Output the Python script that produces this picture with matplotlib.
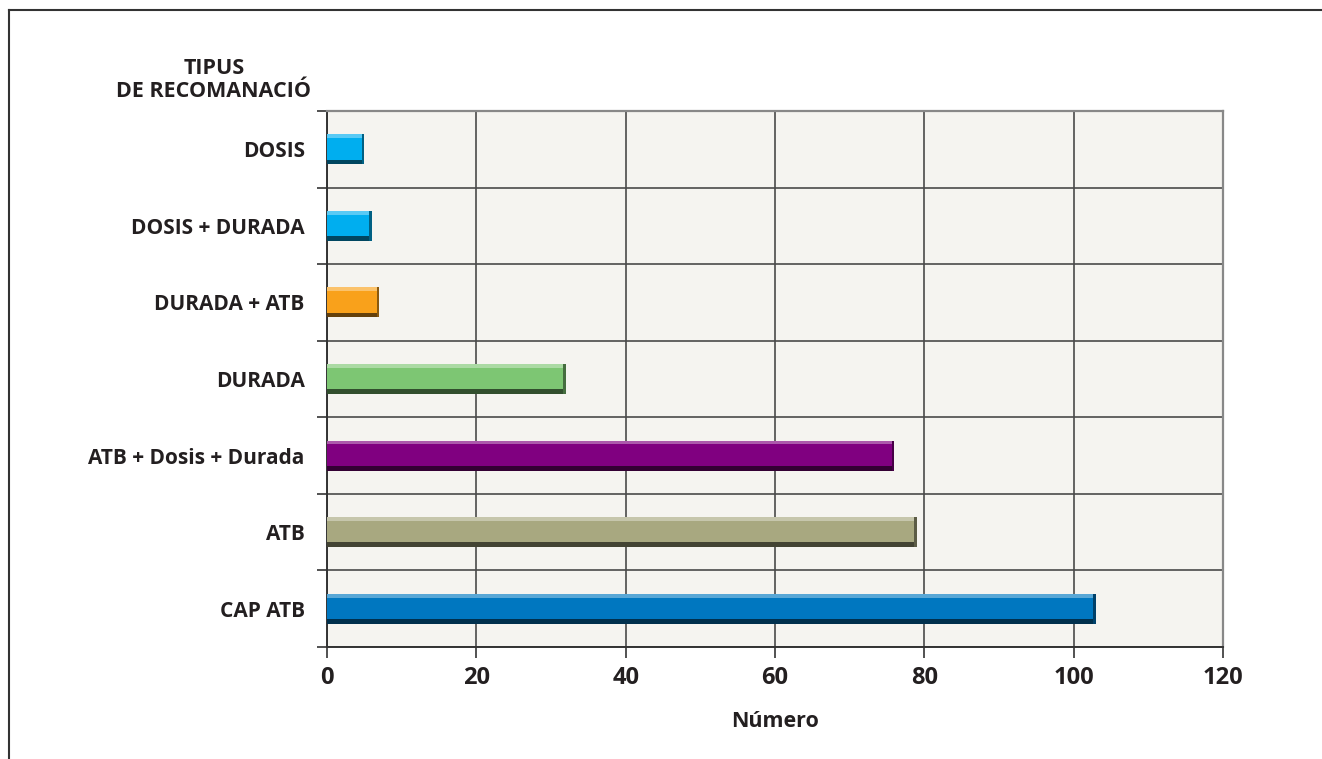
import numpy as np
import matplotlib
matplotlib.use("Agg")
import matplotlib.pyplot as plt
from matplotlib.lines import Line2D
from matplotlib.colors import to_rgb

categories = ["DOSIS", "DOSIS + DURADA", "DURADA + ATB", "DURADA",
              "ATB + Dosis + Durada", "ATB", "CAP ATB"]
values = [5, 6, 7, 32, 76, 79, 103]
colors = ["#00aeef", "#00aeef", "#f9a11b", "#7dc673", "#800080", "#a8a880", "#0077c0"]
xticks = [0, 20, 40, 60, 80, 100, 120]

TXT = "#231f20"
plt.rcParams["font.family"] = ["Open Sans", "DejaVu Sans"]
plt.rcParams["font.weight"] = "bold"


def shade(c, f):
    r, g, b = to_rgb(c)
    if f > 0:
        return (r + (1 - r) * f, g + (1 - g) * f, b + (1 - b) * f)
    return (r * (1 + f), g * (1 + f), b * (1 + f))


fig = plt.figure(figsize=(13.22, 7.59), dpi=100)
ax = fig.add_axes([327 / 1322, 1 - 647 / 759, 896 / 1322, 536 / 759])
ax.set_facecolor("#f5f4f0")

y = np.arange(len(categories))
h = 0.39
ax.barh(y, values, height=h, color=colors, zorder=3)
# bevel: light top strip, dark bottom strip, dark right edge
ax.barh(y - h / 2 + 0.025, values, height=0.05, color=[shade(c, 0.35) for c in colors], zorder=4)
ax.barh(y + h / 2 - 0.03, values, height=0.06, color=[shade(c, -0.6) for c in colors], zorder=4)
vals = np.array(values, dtype=float)
ax.barh(y, [0.35] * len(values), left=vals - 0.35, height=h,
        color=[shade(c, -0.45) for c in colors], zorder=5)

ax.set_xlim(0, 120)
ax.set_ylim(len(categories) - 0.5, -0.5)
ax.set_xticks(xticks)
ax.set_xticklabels([str(t) for t in xticks], fontsize=17, fontweight="bold", color=TXT)
ax.set_yticks(y)
ax.set_yticklabels(categories, fontsize=15, fontweight="bold", color=TXT)
ax.set_yticks(np.arange(-0.5, len(categories), 1.0), minor=True)
ax.tick_params(axis="y", which="major", length=0, pad=16)
ax.tick_params(axis="y", which="minor", length=7, width=1.2, color="#333333", direction="out")
ax.tick_params(axis="x", length=8, width=1.2, color="#333333", pad=6)

ax.grid(axis="x", which="major", color="#4a4a4a", linewidth=1.2, zorder=1)
ax.grid(axis="y", which="minor", color="#4a4a4a", linewidth=1.2, zorder=1)
ax.set_axisbelow(True)

for s in ["left", "bottom"]:
    ax.spines[s].set_color("#333333")
    ax.spines[s].set_linewidth(1.4)
for s in ["top", "right"]:
    ax.spines[s].set_color("#888888")
    ax.spines[s].set_linewidth(1.6)

ax.set_xlabel("Número", fontsize=15.5, fontweight="bold", color=TXT, labelpad=15)
fig.text(214 / 1322, 1 - 80 / 759, "TIPUS\nDE RECOMANACIÓ", ha="center", va="center",
         fontsize=15.5, fontweight="bold", color=TXT, linespacing=1.15)

# outer frame (top and left edges)
fig.add_artist(Line2D([9 / 1322, 1.0], [1 - 10 / 759, 1 - 10 / 759],
                      transform=fig.transFigure, color="#333333", linewidth=1.5))
fig.add_artist(Line2D([9 / 1322, 9 / 1322], [0.0, 1 - 10 / 759],
                      transform=fig.transFigure, color="#333333", linewidth=1.5))

fig.savefig("out.png", dpi=100)
